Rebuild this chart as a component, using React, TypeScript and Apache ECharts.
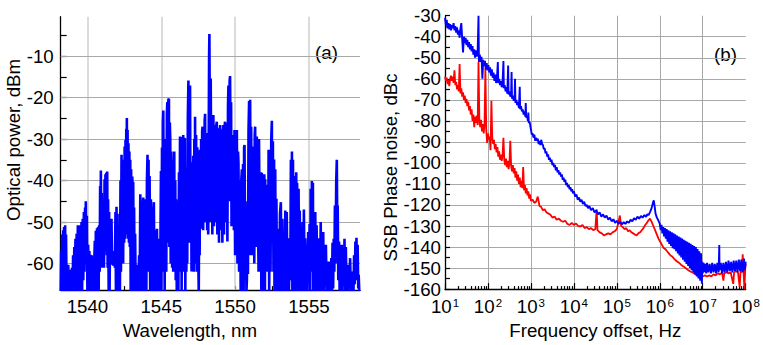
import React, { useEffect, useRef } from 'react';
import * as echarts from 'echarts';

// ---------- Panel (a): optical spectrum, [wavelength nm, power dBm] ----------
const spectrum: [number, number][] = [
  [1538.19,-66.6],[1538.22,-57],[1538.25,-66.6],[1538.29,-53],[1538.32,-66.6],[1538.36,-52],[1538.39,-66.6],[1538.42,-51.2],[1538.45,-66.6],[1538.49,-50.8],[1538.52,-66.6],[1538.55,-53],[1538.59,-66.6],[1538.62,-60.5],[1538.66,-66.6],[1538.7,-60.3],[1538.74,-66.6],[1538.78,-61.5],[1538.82,-66.6],[1538.86,-62],[1538.9,-66.6],
  [1538.95,-61],[1538.99,-66.6],[1539.03,-58],[1539.07,-66.6],[1539.11,-56],[1539.15,-66.6],[1539.19,-54],[1539.23,-66.6],[1539.27,-52.8],[1539.31,-66.6],[1539.35,-50.8],[1539.39,-64],[1539.43,-52],[1539.47,-66.6],[1539.51,-50.8],[1539.55,-63],[1539.6,-50],[1539.64,-66.6],[1539.68,-49.2],[1539.72,-64],[1539.76,-47.6],[1539.8,-62],[1539.84,-46.5],[1539.87,-58],[1539.89,-45],[1539.92,-60],[1539.96,-48.5],[1540.0,-66.6],[1540.05,-55.5],[1540.09,-66.6],[1540.13,-57],[1540.17,-66.6],[1540.21,-57.9],[1540.25,-66.6],[1540.29,-58],[1540.33,-66.6],[1540.36,-60.3],[1540.41,-66.6],
  [1540.45,-66.6],[1540.5,-54.5],[1540.54,-66.6],[1540.57,-52.1],[1540.61,-66.6],[1540.65,-51.5],[1540.68,-64],[1540.72,-51.2],[1540.76,-66.6],[1540.79,-50.8],[1540.83,-62],[1540.86,-41.3],[1540.88,-58],[1540.91,-37.6],[1540.94,-55],[1540.97,-43],[1541.0,-61],[1541.03,-47.5],[1541.06,-60],[1541.09,-55.5],[1541.12,-61],[1541.16,-39.7],[1541.19,-57],[1541.22,-38.5],[1541.25,-55],[1541.28,-38.1],[1541.31,-58],[1541.34,-37.8],[1541.37,-61],[1541.4,-44.5],[1541.44,-66.6],[1541.47,-47.6],[1541.5,-66.6],[1541.54,-50.8],[1541.58,-60],[1541.63,-49.2],[1541.67,-60.3],[1541.7,-57],[1541.75,-60.5],[1541.81,-58],[1541.86,-61],[1541.9,-47.6],[1541.93,-66.6],[1541.97,-46.3],[1542.0,-66.6],[1542.04,-48],[1542.08,-66.6],
  [1542.12,-66.6],[1542.16,-51.6],[1542.2,-66.6],[1542.24,-40],[1542.27,-62],[1542.31,-33.8],[1542.34,-58],[1542.38,-36],[1542.42,-60],[1542.45,-35],[1542.49,-55],[1542.52,-31.8],[1542.55,-54],[1542.58,-30.2],[1542.61,-53],[1542.63,-27.5],[1542.65,-47],[1542.67,-24.9],[1542.7,-50],[1542.72,-27.8],[1542.75,-54],[1542.78,-31],[1542.81,-55],[1542.84,-33],[1542.87,-56],[1542.9,-35],[1542.93,-66.6],[1542.96,-37.3],[1543.0,-66.6],[1543.04,-39],[1543.08,-66.6],[1543.1,-40.3],[1543.14,-66.6],[1543.16,-46.5],[1543.2,-66.6],[1543.23,-52.8],[1543.27,-66.6],[1543.31,-60.3],[1543.36,-66.6],[1543.4,-61],[1543.45,-66.6],[1543.5,-58],[1543.54,-66.6],[1543.58,-43.3],[1543.62,-66.6],
  [1543.67,-47.6],[1543.7,-66.6],[1543.74,-46],[1543.78,-44.1],[1543.82,-66.6],[1543.86,-45.5],[1543.9,-44.5],[1543.93,-66.6],[1543.96,-55.5],[1543.99,-66.6],[1544.03,-40],[1544.07,-33.8],[1544.1,-60],[1544.14,-35],[1544.17,-62],[1544.21,-38.9],[1544.25,-66.6],[1544.3,-44.5],[1544.33,-66.6],[1544.37,-55.5],[1544.41,-66.6],[1544.46,-48],[1544.5,-45.2],[1544.54,-66.6],[1544.57,-52],[1544.61,-66.6],[1544.65,-53],[1544.68,-66.6],[1544.71,-51.6],[1544.75,-66.6],[1544.8,-54],[1544.84,-66.6],[1544.88,-54.7],[1544.92,-66.6],
  [1544.95,-52],[1544.98,-37.7],[1545.01,-66.6],[1545.05,-32],[1545.08,-62],[1545.11,-26],[1545.14,-23.1],[1545.17,-60],[1545.2,-30],[1545.23,-66.6],[1545.27,-33],[1545.3,-37.7],[1545.34,-62],[1545.38,-24],[1545.41,-21.1],[1545.45,-55],[1545.48,-20.5],[1545.52,-20.3],[1545.55,-56],[1545.58,-26],[1545.61,-30],[1545.64,-60],[1545.68,-33],[1545.71,-36.3],[1545.74,-61],[1545.78,-45.8],[1545.81,-62],[1545.84,-55.3],[1545.86,-60],[1545.88,-33],[1545.91,-62],[1545.95,-40],[1545.98,-64],[1546.01,-44.5],[1546.05,-66.6],
  [1546.08,-52],[1546.12,-48.5],[1546.16,-66.6],[1546.2,-38],[1546.24,-60],[1546.27,-29.4],[1546.31,-62],[1546.34,-30.2],[1546.38,-66.6],[1546.41,-29.5],[1546.45,-62],[1546.49,-29],[1546.53,-60],[1546.56,-30],[1546.6,-29.8],[1546.63,-66.6],[1546.67,-37],[1546.7,-62],[1546.72,-48],[1546.76,-60],[1546.8,-25],[1546.84,-15.9],[1546.87,-55],[1546.91,-24],[1546.95,-17.1],[1546.98,-50],[1547.02,-35.6],[1547.05,-61.9],[1547.08,-62],
  [1547.12,-48],[1547.17,-34],[1547.2,-62],[1547.24,-30],[1547.27,-58],[1547.29,-24.6],[1547.32,-60],[1547.36,-29],[1547.4,-62],[1547.44,-32],[1547.47,-34.6],[1547.51,-60],[1547.54,-66.6],[1547.57,-45],[1547.6,-58],[1547.63,-32.6],[1547.67,-51.6],[1547.7,-30],[1547.74,-49],[1547.77,-28],[1547.8,-27],[1547.84,-52],[1547.87,-28.5],[1547.9,-48],[1547.94,-25.5],[1547.97,-23.9],[1548.0,-50],[1548.04,-29],[1548.08,-28.6],[1548.11,-52],[1548.15,-41],[1548.18,-53],[1548.22,-25],[1548.24,-10],[1548.26,-4.7],[1548.28,-20],[1548.31,-50],[1548.35,-15.4],[1548.38,-36],[1548.42,-26.2],[1548.46,-53],
  [1548.5,-27],[1548.53,-24.2],[1548.57,-51],[1548.61,-28],[1548.64,-26.6],[1548.68,-50],[1548.72,-27],[1548.76,-25.8],[1548.8,-53],[1548.84,-29],[1548.87,-27.4],[1548.91,-55],[1548.95,-28.5],[1548.99,-26.6],[1549.03,-52],[1549.06,-28],[1549.1,-27.8],[1549.14,-55],[1549.18,-28.5],[1549.21,-26.6],[1549.25,-53],[1549.29,-27],[1549.32,-25.8],[1549.36,-50],[1549.4,-27.5],[1549.44,-26.2],[1549.48,-54.7],[1549.52,-22],[1549.55,-17.1],[1549.59,-45],[1549.63,-16],[1549.66,-14.8],[1549.69,-30],[1549.73,-21.1],[1549.76,-51],[1549.8,-31.8],[1549.84,-50],[1549.88,-29],
  [1549.92,-52],[1549.96,-27.8],[1550.0,-58],[1550.04,-29],[1550.08,-55],[1550.12,-27.8],[1550.16,-60],[1550.2,-33],[1550.23,-35.7],[1550.27,-62],[1550.31,-40],[1550.34,-43.6],[1550.38,-66.6],[1550.42,-40],[1550.46,-37.3],[1550.5,-66.6],[1550.54,-36],[1550.58,-66.6],[1550.61,-32],[1550.64,-31.4],[1550.68,-62],[1550.73,-52.5],[1550.77,-66.6],[1550.8,-64],[1550.84,-45],[1550.87,-62.5],[1550.91,-28],[1550.95,-20.8],[1550.98,-58],[1551.02,-20.5],[1551.05,-50],[1551.09,-27],[1551.13,-58],[1551.18,-31.8],[1551.22,-56],[1551.26,-36],[1551.3,-60],[1551.33,-29],[1551.36,-27],[1551.4,-56],[1551.43,-32],[1551.47,-29.4],[1551.51,-56],[1551.55,-47.6],[1551.59,-62],[1551.62,-30],[1551.66,-50],
  [1551.7,-62],[1551.74,-38],[1551.78,-66.6],[1551.81,-38.1],[1551.85,-66.6],[1551.9,-45],[1551.94,-64],[1551.98,-38.5],[1552.02,-66.6],[1552.04,-39.7],[1552.08,-62],[1552.13,-42],[1552.17,-62],[1552.2,-41],[1552.24,-60],[1552.27,-32.6],[1552.31,-66.6],[1552.36,-32.6],[1552.4,-62],[1552.45,-30],[1552.49,-25.6],[1552.52,-55],[1552.56,-30.5],[1552.6,-62],[1552.64,-34.9],[1552.67,-66.6],[1552.72,-37.3],[1552.75,-66.6],[1552.8,-44.4],[1552.84,-66.6],[1552.88,-51.6],[1552.92,-66.6],[1552.97,-53.2],[1553.0,-66.6],
  [1553.04,-48],[1553.1,-45.2],[1553.14,-66.6],[1553.2,-49.2],[1553.25,-66.6],[1553.3,-55.5],[1553.35,-66.6],[1553.4,-47.2],[1553.44,-66.6],[1553.5,-47.6],[1553.55,-66.6],[1553.6,-53.9],[1553.65,-66.6],[1553.7,-55.5],[1553.74,-64],[1553.78,-35],[1553.82,-60],[1553.85,-33],[1553.88,-66.6],[1553.92,-35],[1553.96,-66.6],[1554.0,-38.9],[1554.04,-66.6],[1554.07,-38.9],[1554.1,-64],[1554.14,-38],[1554.18,-66.6],[1554.2,-40.5],[1554.25,-66.6],[1554.3,-42],[1554.34,-66.6],[1554.38,-47.2],[1554.42,-66.6],[1554.47,-53.2],[1554.52,-66.6],
  [1554.57,-50],[1554.62,-66.6],[1554.66,-47],[1554.71,-66.6],[1554.75,-53.9],[1554.8,-66.6],[1554.84,-55.5],[1554.9,-66.6],[1554.95,-52.4],[1555.0,-64],[1555.05,-50.5],[1555.09,-66.6],[1555.12,-42],[1555.16,-60],[1555.2,-40.1],[1555.23,-62],[1555.27,-40.5],[1555.3,-66.6],[1555.36,-47.6],[1555.4,-66.6],[1555.43,-47.6],[1555.48,-66.6],[1555.52,-50.8],[1555.57,-66.6],[1555.61,-53.9],[1555.65,-66.6],[1555.7,-55.5],
  [1555.75,-66.6],[1555.8,-50],[1555.84,-66.6],[1555.88,-55.5],[1555.93,-64],[1555.97,-52.4],[1556.01,-66.6],[1556.06,-55.5],[1556.11,-64],[1556.15,-55.5],[1556.2,-66.6],[1556.24,-59.5],[1556.29,-66],[1556.34,-59.5],[1556.38,-66.6],[1556.43,-60.3],[1556.47,-66],[1556.52,-58.7],[1556.56,-66.6],[1556.6,-55],[1556.64,-66],[1556.68,-54],[1556.72,-62],[1556.76,-46],[1556.8,-60],[1556.85,-40],[1556.89,-35],[1556.92,-52],[1556.95,-46],[1556.99,-64],[1557.04,-54.7],[1557.08,-66.6],[1557.12,-55.5],[1557.17,-64],[1557.22,-55.5],[1557.26,-66.6],[1557.31,-56.3],[1557.36,-65],[1557.41,-54],[1557.45,-66.6],[1557.5,-56],[1557.55,-66],[1557.6,-61.1],[1557.65,-66.6],[1557.7,-60.3],[1557.74,-66],[1557.79,-58.7],[1557.84,-66.6],[1557.88,-62.7],[1557.93,-66],[1557.97,-61.9],[1558.02,-66.6],[1558.06,-58],[1558.1,-65],[1558.15,-54.7],[1558.19,-64],[1558.22,-53.8],[1558.26,-62],[1558.3,-55.5],[1558.34,-66],[1558.37,-62.7],[1558.41,-66.6],
];
const wlTicks = [1540, 1542.5, 1545, 1547.5, 1550, 1552.5, 1555, 1557.5];
const wlLabels = [1540, 1545, 1550, 1555];
const wlGrid = [1540, 1545, 1550, 1555];
const powTicks = [-65, -60, -55, -50, -45, -40, -35, -30, -25, -20, -15, -10, -5];
const powLabels = [-60, -50, -40, -30, -20, -10];
const powGrid = [-60, -50, -40, -30, -20, -10];

// ---------- Panel (b): SSB phase noise, [log10(offset / Hz), dBc] ----------
const blueTrace: [number, number][] = [
  [1.00,-31],[1.02,-34.5],[1.04,-32],[1.06,-36],[1.08,-33.5],[1.10,-36.5],[1.12,-34],[1.14,-37],[1.16,-34.5],[1.18,-36],[1.20,-33.5],[1.22,-37],[1.24,-35],[1.26,-38],[1.28,-35.5],[1.30,-39],[1.32,-37],[1.34,-40.5],[1.36,-36],[1.38,-33.5],[1.40,-41],[1.42,-47.5],[1.44,-40],[1.46,-43],[1.48,-40.5],[1.50,-44],[1.52,-41.5],[1.54,-45],[1.56,-42.5],[1.58,-46],[1.60,-43.5],[1.62,-47],[1.64,-44.5],[1.66,-48.5],[1.68,-46],[1.70,-50],[1.72,-46.5],[1.74,-49.5],[1.76,-47],[1.78,-30],[1.79,-52],[1.81,-48.5],[1.83,-52],[1.85,-49.5],[1.87,-60],[1.89,-51],[1.91,-54],[1.93,-51.5],[1.95,-55.5],[1.97,-52.5],[1.99,-56],[2.01,-53.5],[2.03,-57],[2.05,-54.5],[2.07,-58.5],[2.09,-55.5],[2.11,-59.5],[2.13,-57],[2.15,-61],[2.17,-58],
  [2.19,-62],[2.21,-59.5],[2.23,-52],[2.24,-62],[2.26,-60],[2.28,-63],[2.30,-61],[2.32,-64],[2.34,-62],[2.36,-51.5],[2.37,-64.5],[2.39,-63],[2.41,-66],[2.43,-64],[2.45,-67],[2.47,-53.7],[2.48,-67.5],[2.50,-66],[2.52,-68.5],[2.54,-67],[2.55,-56.8],[2.56,-69.5],[2.58,-68],[2.60,-70.5],[2.62,-69],[2.63,-60],[2.64,-71.5],[2.66,-70],[2.68,-72.5],[2.70,-71],[2.72,-74],[2.74,-63.8],[2.75,-74.5],[2.77,-73],[2.79,-75.5],[2.81,-74.5],[2.83,-77],[2.85,-75.5],[2.87,-78],[2.88,-71.5],[2.89,-78.5],[2.91,-77.5],[2.93,-80],[2.94,-76],[2.95,-81],[2.97,-80.5],
  [3.00,-84],[3.02,-86.5],[3.04,-86],[3.06,-88],[3.08,-86.5],[3.10,-89.5],[3.12,-88],[3.14,-89.5],[3.16,-88.5],[3.18,-91],[3.20,-89.5],[3.22,-91.5],[3.24,-89],[3.26,-91],[3.28,-91.5],[3.30,-93.5],[3.32,-93],[3.34,-95.5],[3.36,-94.5],[3.38,-97],[3.40,-96],[3.42,-98.5],[3.44,-97.5],[3.46,-99.5],[3.48,-98.5],[3.50,-101],[3.52,-100],[3.54,-102],[3.56,-101],[3.58,-103.5],[3.60,-102],[3.62,-104.5],[3.64,-103.5],[3.66,-105.5],[3.68,-104.5],[3.70,-106.5],[3.72,-105.5],[3.74,-108],[3.76,-107],[3.78,-109],[3.80,-108],[3.82,-110.5],[3.84,-109.5],[3.86,-111.5],[3.88,-110.5],[3.90,-112.5],[3.92,-111.5],[3.94,-113.5],[3.96,-112.5],[3.98,-114.5],
  [4.00,-113.5],[4.03,-116],[4.06,-115],[4.09,-117.5],[4.12,-116.5],[4.15,-118.5],[4.18,-117.5],[4.21,-119.5],[4.24,-118.5],[4.27,-120.5],[4.30,-120],[4.33,-121.5],[4.36,-120.5],[4.40,-122.5],[4.44,-121.5],[4.48,-123.5],[4.52,-122.5],[4.56,-124.5],[4.60,-123.5],[4.64,-125.5],[4.68,-124.5],[4.72,-126],[4.76,-125],[4.80,-127],[4.84,-126],[4.88,-127.8],[4.92,-126.8],[4.96,-128.5],
  [5.00,-127.5],[5.04,-129],[5.08,-128],[5.12,-129.2],[5.16,-128.2],[5.20,-129],[5.24,-127.8],[5.28,-128.5],[5.32,-127],[5.36,-127.8],[5.40,-126.3],[5.44,-127],[5.48,-125.6],[5.52,-126.5],[5.56,-125.2],[5.60,-126],[5.64,-124.8],[5.68,-125.6],[5.71,-124.4],[5.74,-124.8],[5.78,-123],[5.81,-121.5],[5.84,-119],[5.86,-117.8],[5.88,-120.5],[5.90,-124],[5.93,-125.9],[5.97,-127.5],
  [6.00,-129],[6.02,-132],[6.04,-129.5],[6.06,-133.5],[6.08,-130.5],[6.10,-135],[6.12,-131],[6.14,-136],[6.16,-131.5],[6.18,-137.5],[6.20,-132],[6.22,-138.5],[6.24,-132.5],[6.26,-139.5],[6.28,-133],[6.30,-140.5],[6.32,-133.5],[6.34,-141],[6.36,-134],[6.38,-142],[6.40,-134.5],[6.42,-143],[6.44,-135],[6.46,-144],[6.48,-135.5],[6.50,-145],[6.52,-136],[6.54,-146],[6.56,-136.5],[6.58,-147],[6.60,-137],[6.62,-148],[6.64,-137.5],[6.66,-149],[6.68,-138],[6.70,-150],[6.72,-138.5],[6.74,-151],[6.76,-139],[6.78,-152],[6.80,-139.5],[6.82,-153],[6.84,-140],[6.86,-154],[6.88,-141],[6.90,-155],[6.92,-142],[6.94,-156],[6.96,-143],[6.98,-157.5],[6.99,-147],
  [7.00,-152.5],[7.02,-147.5],[7.04,-152],[7.06,-148],[7.08,-152.5],[7.10,-147.5],[7.13,-152],[7.16,-148],[7.19,-152.5],[7.22,-147.5],[7.25,-152],[7.28,-148],[7.31,-152.5],[7.34,-147.5],[7.37,-152],[7.385,-139],[7.39,-151],[7.42,-147.5],[7.45,-152.5],[7.48,-147.5],[7.51,-152],[7.54,-147],[7.57,-152],[7.60,-146.5],[7.63,-151.5],[7.66,-147],[7.69,-152],[7.72,-146.5],[7.75,-151.5],[7.78,-146.5],[7.81,-152],[7.84,-146],[7.87,-151.5],[7.90,-146],[7.93,-152],[7.96,-145.5],[7.98,-151],[8.00,-147],
];
const redTrace: [number, number][] = [
  [1.00,-59],[1.02,-61],[1.04,-59.5],[1.06,-62.5],[1.08,-60.5],[1.10,-63.5],[1.12,-60],[1.14,-58.5],[1.16,-61],[1.18,-59],[1.20,-62],[1.22,-56],[1.24,-63],[1.26,-61.5],[1.28,-65],[1.30,-63],[1.32,-66],[1.34,-53],[1.36,-67],[1.38,-64.5],[1.40,-68.5],[1.42,-66.5],[1.44,-70],[1.46,-68],[1.48,-71.5],[1.50,-69.5],[1.52,-73],[1.54,-71],[1.56,-75],[1.58,-73],[1.60,-77],[1.62,-74.5],[1.64,-80],[1.66,-77],[1.68,-83],[1.70,-78],[1.72,-81],[1.74,-77.5],[1.76,-82],[1.78,-52],[1.80,-80],[1.82,-83],[1.84,-79.5],[1.86,-85],[1.88,-81.5],[1.90,-86],[1.92,-82],[1.94,-55],[1.96,-84],[1.98,-90.5],
  [2.00,-86],[2.02,-89],[2.04,-87.5],[2.06,-94],[2.08,-70.5],[2.10,-88],[2.12,-91],[2.14,-89],[2.16,-93.5],[2.18,-91],[2.20,-95],[2.22,-92.5],[2.24,-97],[2.26,-94.5],[2.28,-98.5],[2.30,-96],[2.32,-99],[2.34,-96.5],[2.36,-88],[2.38,-98.5],[2.40,-101],[2.42,-98],[2.44,-102],[2.46,-99],[2.48,-103],[2.50,-100],[2.52,-89.5],[2.54,-101.5],[2.56,-104],[2.58,-101],[2.60,-105],[2.62,-102.5],[2.64,-107],[2.66,-104],[2.68,-108.5],[2.70,-105.5],[2.72,-110],[2.74,-107],[2.76,-111.5],[2.78,-108.5],[2.80,-112],[2.82,-102],[2.84,-113],[2.86,-110.5],[2.88,-114.5],[2.90,-112],[2.92,-115.5],[2.94,-113.5],[2.96,-117],[2.98,-115],
  [3.00,-118],[3.04,-117.5],[3.08,-119],[3.12,-118.5],[3.16,-116],[3.20,-120.5],[3.24,-121],[3.28,-122.5],[3.32,-122],[3.36,-123.5],[3.40,-124],[3.45,-124.5],[3.50,-126],[3.55,-125.5],[3.60,-127],[3.65,-126.5],[3.70,-127.5],[3.75,-128],[3.80,-127.5],[3.85,-129],[3.90,-129.5],[3.95,-128.5],[4.00,-129.5],[4.05,-128.8],[4.10,-130],[4.15,-130.2],[4.20,-129.5],[4.25,-131],[4.30,-130.5],[4.35,-131.5],[4.40,-131],[4.45,-132],[4.50,-131.5],[4.53,-122],[4.55,-132],[4.60,-133],[4.65,-133.5],[4.70,-134.5],[4.75,-134],[4.80,-133.5],[4.85,-134],[4.90,-133],[4.95,-132.5],
  [5.00,-131.5],[5.04,-128],[5.07,-125],[5.10,-130],[5.14,-130.5],[5.18,-131.5],[5.22,-131],[5.26,-132.5],[5.30,-132],[5.34,-133],[5.38,-133.5],[5.42,-134],[5.46,-134.5],[5.50,-133.5],[5.54,-133],[5.58,-132],[5.62,-131],[5.66,-129.5],[5.70,-128.5],[5.73,-127.5],[5.77,-126.5],[5.81,-128],[5.85,-130],[5.89,-132],[5.93,-134],[5.97,-136],
  [6.01,-137.5],[6.05,-139],[6.09,-140.5],[6.13,-141],[6.17,-142],[6.21,-143],[6.25,-144],[6.29,-144.5],[6.33,-145.5],[6.37,-146.3],[6.41,-147],[6.45,-147.5],[6.50,-148.5],[6.55,-149.2],[6.60,-150],[6.65,-150.8],[6.70,-151.5],[6.75,-152],[6.80,-152.5],[6.85,-153.2],[6.90,-153.5],[6.95,-153.8],
  [7.00,-154],[7.05,-153.5],[7.10,-154],[7.15,-153.5],[7.20,-154],[7.25,-153],[7.30,-153.5],[7.35,-152.5],[7.40,-153],[7.45,-152],[7.48,-156],[7.50,-152.5],[7.55,-152],[7.60,-152.5],[7.65,-152],[7.71,-157.5],[7.73,-152],[7.78,-151.5],[7.82,-152],[7.86,-159],[7.88,-151.5],[7.91,-152],[7.93,-143.5],[7.95,-152],[7.97,-160],[7.99,-150],[8.00,-148],
];

const FONT = "'Liberation Sans', Arial, Helvetica, sans-serif";
const FS = 18.7;
const BLACK = '#000';

function buildOption() {
  const minorTicks: number[] = [];
  for (let d = 1; d < 8; d++) {
    for (let k = 2; k <= 9; k++) minorTicks.push(d + Math.log10(k));
  }
  const axisLine = { show: true, onZero: false, lineStyle: { color: BLACK, width: 1.3 } };
  const label = { color: BLACK, fontSize: FS, fontFamily: FONT };
  const nameStyle = { color: BLACK, fontSize: FS, fontFamily: FONT };

  return {
    animation: false,
    textStyle: { fontFamily: FONT },
    grid: [
      { left: 60.7, top: 16.7, width: 299.3, height: 277.6, containLabel: false },
      { left: 445, top: 15.7, width: 300.7, height: 279.3, containLabel: false },
    ],
    xAxis: [
      {
        type: 'value', gridIndex: 0, min: 1538.19, max: 1558.46, position: 'bottom',
        axisLine,
        axisTick: { show: true, inside: true, length: 4, customValues: wlTicks, lineStyle: { color: BLACK, width: 1.2 } },
        axisLabel: { ...label, margin: 7, customValues: wlLabels, formatter: (v: number) => String(v) },
        splitLine: { show: false },
        name: 'Wavelength, nm', nameLocation: 'middle', nameGap: 27,
        nameTextStyle: { ...nameStyle, padding: [0, 41, 0, 0] },
      },
      {
        type: 'value', gridIndex: 1, min: 1, max: 8, interval: 1, position: 'bottom',
        axisLine,
        axisTick: { show: true, inside: true, length: 6, lineStyle: { color: BLACK, width: 1.2 } },
        axisLabel: {
          ...label, margin: 8,
          formatter: (v: number) => `10{s|${v}}`,
          rich: { s: { fontSize: 11.5, fontFamily: FONT, color: BLACK, verticalAlign: 'top', padding: [0, 0, 0, 1] } },
        },
        splitLine: { show: true, showMinLine: false, showMaxLine: false, lineStyle: { color: '#a8a8a8', width: 1 } },
        name: 'Frequency offset, Hz', nameLocation: 'middle', nameGap: 27,
        nameTextStyle: nameStyle,
      },
      {
        type: 'value', gridIndex: 1, min: 1, max: 8, position: 'bottom',
        axisLine: { show: false },
        axisTick: { show: true, inside: true, length: 3, customValues: minorTicks, lineStyle: { color: BLACK, width: 1.2 } },
        axisLabel: { show: false },
        splitLine: { show: false },
      },
    ],
    yAxis: [
      {
        type: 'value', gridIndex: 0, min: -66.4, max: -0.5,
        axisLine,
        axisTick: { show: true, inside: true, length: 6, customValues: powTicks, lineStyle: { color: BLACK, width: 1.2 } },
        axisLabel: { ...label, margin: 7, customValues: powLabels, formatter: (v: number) => String(v) },
        splitLine: { show: false },
        name: 'Optical power, dBm', nameLocation: 'middle', nameGap: 36,
        nameTextStyle: { ...nameStyle, padding: [0, 0, 0, 27] },
      },
      {
        type: 'value', gridIndex: 1, min: -160, max: -30, interval: 10,
        axisLine,
        axisTick: { show: true, inside: true, length: 5, lineStyle: { color: BLACK, width: 1.2 } },
        minorTick: { show: true, splitNumber: 2, length: 5, lineStyle: { color: BLACK, width: 1.2 } },
        axisLabel: { ...label, margin: 4, formatter: (v: number) => String(v) },
        splitLine: { show: true, showMinLine: false, showMaxLine: false, lineStyle: { color: '#a8a8a8', width: 1 } },
        name: 'SSB Phase noise, dBc', nameLocation: 'middle', nameGap: 45,
        nameTextStyle: { ...nameStyle, padding: [0, 30, 0, 0] },
      },
    ],
    series: [
      {
        type: 'line', xAxisIndex: 0, yAxisIndex: 0, data: [], silent: true, z: 1,
        markLine: {
          silent: true, z: 1, symbol: ['none', 'none'], animation: false,
          label: { show: false },
          data: [
            ...wlGrid.map((v) => ({ xAxis: v, lineStyle: { color: '#cfcfcf', width: 1.5, type: 'solid' } })),
            ...powGrid.map((v) => ({ yAxis: v, lineStyle: { color: '#a8a8a8', width: 1, type: 'solid' } })),
          ],
        },
      },
      {
        type: 'line', name: 'spectrum', xAxisIndex: 0, yAxisIndex: 0, data: spectrum,
        showSymbol: false, symbol: 'none', clip: true, z: 3,
        lineStyle: { color: '#0000ff', width: 2.6, join: 'bevel' },
      },
      {
        type: 'line', name: 'red', xAxisIndex: 1, yAxisIndex: 1, data: redTrace,
        showSymbol: false, symbol: 'none', clip: true, z: 3,
        lineStyle: { color: '#ff0000', width: 1.8 },
      },
      {
        type: 'line', name: 'blue', xAxisIndex: 1, yAxisIndex: 1, data: blueTrace,
        showSymbol: false, symbol: 'none', clip: true, z: 4,
        lineStyle: { color: '#0000ff', width: 1.9 },
      },
    ],
    graphic: [
      { type: 'text', x: 326.5, y: 52, style: { text: '(a)', fontSize: FS, fontFamily: FONT, fill: BLACK, align: 'center', verticalAlign: 'middle' } },
      { type: 'text', x: 725.5, y: 54.5, style: { text: '(b)', fontSize: FS, fontFamily: FONT, fill: BLACK, align: 'center', verticalAlign: 'middle' } },
    ],
  };
}

export default function App() {
  const ref = useRef<HTMLDivElement>(null);
  useEffect(() => {
    if (!ref.current) return;
    const chart = echarts.init(ref.current, undefined, { renderer: 'svg' });
    chart.setOption(buildOption() as any);
    return () => chart.dispose();
  }, []);
  return <div ref={ref} style={{ position: 'fixed', left: 0, top: 0, width: 763, height: 345, background: '#fff' }} />;
}
